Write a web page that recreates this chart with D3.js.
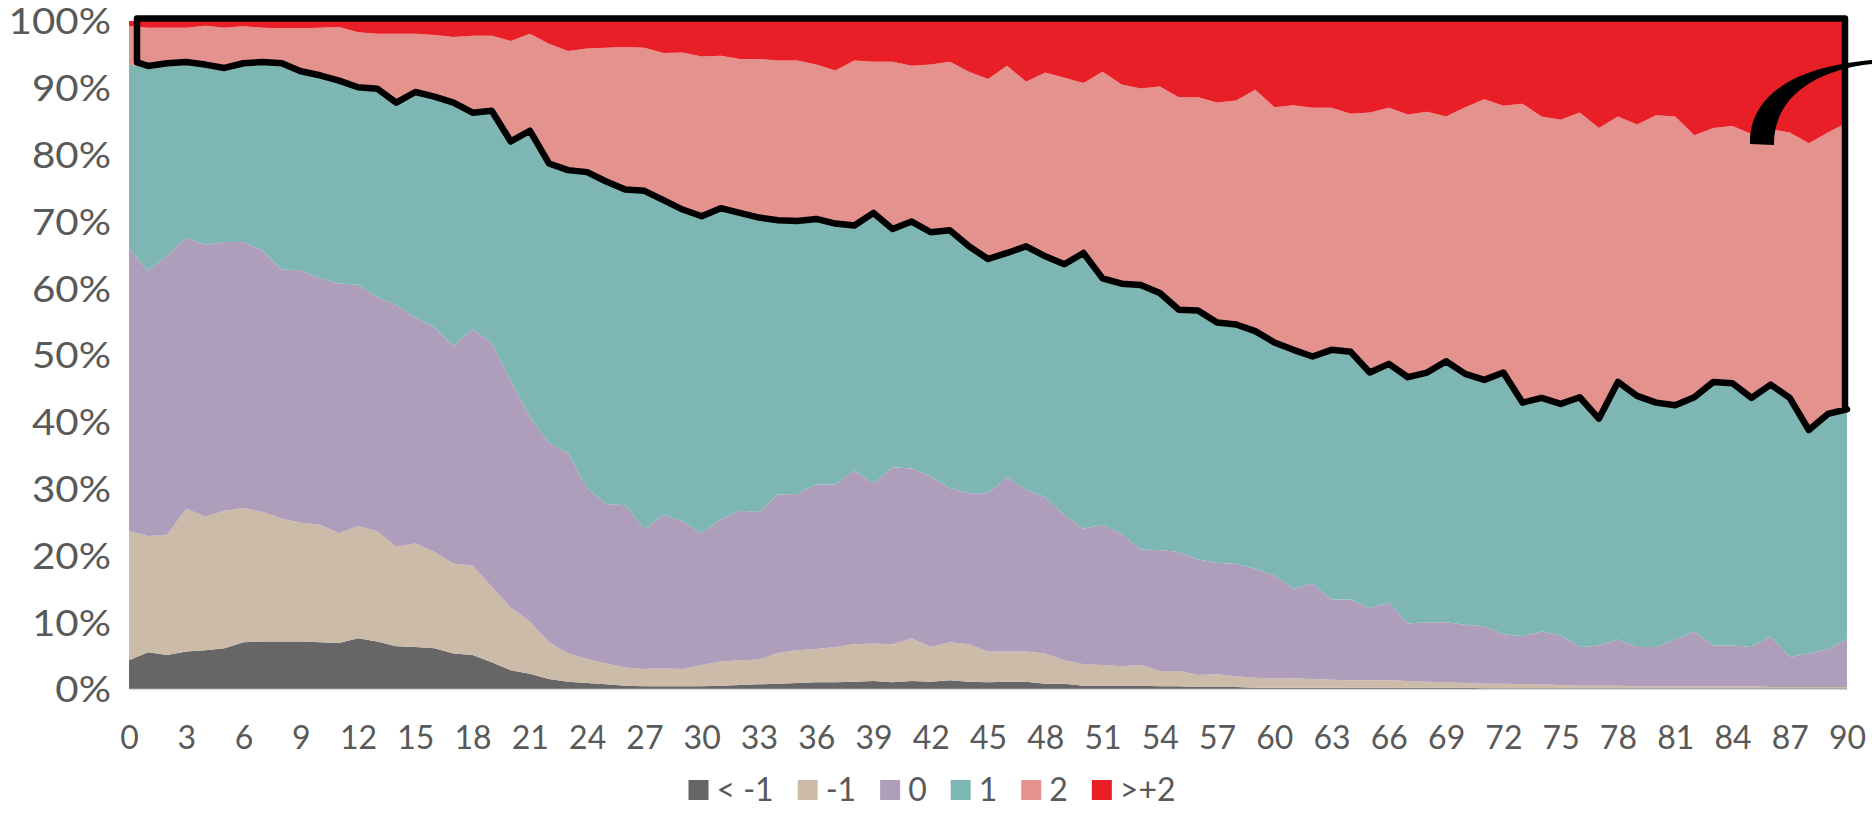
<!DOCTYPE html>
<html>
<head>
<meta charset="utf-8">
<script src="https://cdn.jsdelivr.net/npm/d3@7"></script>
<style>
  body { margin: 0; background: #fff; }
  svg { display: block; }
  text { font-family: Lato, "Open Sans", sans-serif; fill: #595959; }
</style>
</head>
<body>
<svg id="chart" width="1872" height="818"></svg>
<script>
// categories 0..90
const categories = d3.range(0, 91)
const xTicks = d3.range(0, 91, 3)
const yTicks = d3.range(0, 1.01, 0.1)

const seriesNames = ['< -1', '-1', '0', '1', '2', '>+2']
const seriesColors = ['#666666', '#CDBBA9', '#AE9DBB', '#7DB6B2', '#E4928E', '#E81F26']

// share of each class per category (%)
const ltMinus1 = [4.3,5.5,5.1,5.6,5.8,6.1,7.0,7.1,7.1,7.1,
  7.0,6.9,7.6,7.1,6.4,6.3,6.1,5.3,5.1,4.0,
  2.8,2.3,1.5,1.1,0.9,0.7,0.5,0.4,0.4,0.4,
  0.4,0.5,0.6,0.7,0.8,0.9,1.0,1.0,1.1,1.2,
  1.0,1.2,1.1,1.3,1.1,1.0,1.1,1.1,0.8,0.8,
  0.5,0.5,0.5,0.5,0.4,0.4,0.3,0.3,0.3,0.2,
  0.2,0.2,0.2,0.2,0.2,0.2,0.2,0.2,0.2,0.2,
  0.2,0.1,0.1,0.1,0.1,0.1,0.1,0.1,0.1,0.1,
  0.1,0.1,0.1,0.1,0.1,0.1,0.1,0.1,0.1,0.1,0.1]
const minus1 = [19.3,17.4,18.0,21.4,20.0,20.6,20.1,19.4,18.4,17.8,
  17.6,16.4,16.8,16.5,14.9,15.5,14.4,13.5,13.4,11.3,
  9.4,7.8,5.5,4.2,3.6,3.1,2.7,2.6,2.7,2.6,
  3.2,3.6,3.7,3.7,4.6,4.9,5.0,5.3,5.6,5.6,
  5.7,6.4,5.2,5.7,5.6,4.6,4.5,4.5,4.5,3.5,
  3.2,3.1,2.9,3.1,2.3,2.3,1.8,1.9,1.6,1.5,
  1.4,1.4,1.3,1.2,1.1,1.1,1.1,1.0,0.9,0.8,
  0.7,0.7,0.7,0.6,0.6,0.5,0.4,0.4,0.4,0.3,
  0.3,0.3,0.3,0.3,0.3,0.3,0.2,0.2,0.2,0.2,0.2]
const zero = [42.3,39.7,41.8,40.6,40.7,40.2,39.8,39.1,37.3,37.8,
  36.9,37.4,36.1,35.1,36.2,33.8,33.6,32.5,35.4,36.5,
  33.9,30.7,29.8,30.0,25.6,23.9,24.3,20.9,23.0,22.1,
  19.7,21.3,22.4,22.1,23.7,23.4,24.6,24.3,26.0,24.0,
  26.5,25.4,25.5,23.1,22.6,23.7,26.1,24.2,23.4,21.7,
  20.3,21.0,19.8,17.3,18.1,17.8,17.3,16.7,16.8,16.3,
  15.4,13.4,14.3,12.0,12.1,10.8,11.6,8.6,8.9,9.0,
  8.7,8.6,7.4,7.2,7.9,7.4,5.8,6.0,6.9,5.9,
  5.9,7.0,8.2,6.1,6.1,5.9,7.6,4.5,5.0,5.7,7.2]
const one = [27.6,30.3,28.4,25.9,26.6,25.7,26.4,27.9,30.5,29.4,
  30.0,30.0,29.2,30.8,29.9,33.4,34.2,36.1,32.0,34.4,
  35.5,42.4,41.5,42.0,46.9,47.9,46.9,50.3,46.7,46.3,
  47.1,46.2,44.2,43.7,40.7,40.5,39.4,38.7,36.3,40.1,
  35.3,36.6,36.2,38.2,36.6,34.7,33.2,36.1,35.7,37.2,
  40.9,36.5,37.1,39.2,38.1,35.9,36.9,35.6,35.5,35.2,
  34.5,35.4,33.6,37.0,36.7,34.9,35.4,36.5,37.0,38.7,
  37.2,36.5,38.8,34.6,34.6,34.3,37.0,33.6,38.2,37.2,
  36.2,34.7,34.7,39.1,38.9,36.9,37.3,38.4,33.1,34.8,34.0]
const two = [5.7,6.1,5.7,5.5,6.2,6.4,5.9,5.5,5.6,6.8,
  7.5,8.4,8.6,8.6,10.7,9.1,9.6,10.2,11.9,11.6,
  15.4,14.9,18.3,18.2,18.9,20.4,21.7,21.8,22.4,23.9,
  24.3,23.2,23.4,24.1,24.3,24.4,23.5,23.3,25.1,23.0,
  25.4,23.7,25.5,25.6,26.5,27.3,28.4,25.0,27.9,28.3,
  25.8,31.3,30.2,29.8,31.3,32.2,32.3,33.3,33.9,36.5,
  35.6,37.0,37.6,36.6,36.0,39.3,38.7,39.7,39.4,37.0,
  40.3,42.4,40.3,45.1,42.5,42.9,43.0,43.9,40.1,41.0,
  43.4,43.6,39.6,38.4,38.9,39.9,38.6,40.1,43.3,42.5,43.3]
const gtPlus2 = [0.8,1.0,1.0,1.0,0.7,1.0,0.8,1.0,1.1,1.1,
  1.0,0.9,1.7,1.9,1.9,1.9,2.1,2.4,2.2,2.2,
  3.0,1.9,3.4,4.5,4.1,4.0,3.9,4.0,4.8,4.7,
  5.3,5.2,5.7,5.7,5.9,5.9,6.5,7.4,5.9,6.1,
  6.1,6.7,6.5,6.1,7.6,8.7,6.7,9.1,7.7,8.5,
  9.3,7.6,9.5,10.1,9.8,11.4,11.4,12.2,11.9,10.3,
  12.9,12.6,13.0,13.0,13.9,13.7,13.0,14.0,13.6,14.3,
  12.9,11.7,12.7,12.4,14.3,14.8,13.7,16.0,14.3,15.5,
  14.1,14.3,17.1,16.0,15.7,16.9,16.2,16.7,18.3,16.7,15.2]

const seriesValues = [ltMinus1, minus1, zero, one, two, gtPlus2]

const table = categories.map((c, i) => {
  const row = { cat: c }
  seriesNames.forEach((name, k) => { row[name] = seriesValues[k][i] })
  return row
})

const svg = d3.select('#chart')
const plotLeft = 129, plotRight = 1847, plotTop = 21, plotBottom = 689

const x = d3.scaleLinear().domain([0, 90]).range([plotLeft, plotRight])
const y = d3.scaleLinear().domain([0, 1]).range([plotBottom, plotTop])

const stack = d3.stack().keys(seriesNames).offset(d3.stackOffsetExpand)
const layers = stack(table)

const area = d3.area()
  .x(d => x(d.data.cat))
  .y0(d => y(d[0]))
  .y1(d => y(d[1]))

svg.append('g')
  .selectAll('path.layer')
  .data(layers)
  .enter()
  .append('path')
  .classed('layer', true)
  .attr('d', area)
  .attr('fill', (d, i) => seriesColors[i])

// x axis
const xAxis = svg.append('g')
  .attr('transform', `translate(0,${plotBottom})`)
  .call(d3.axisBottom(x).tickValues(xTicks).tickSize(0).tickFormat(d3.format('d')))
xAxis.select('.domain').attr('stroke', '#d9d9d9').attr('stroke-width', 1.5)
xAxis.selectAll('text')
  .attr('y', 60).attr('dy', null)
  .style('font-size', '32px').style('fill', '#595959')
  .style('font-family', 'Lato, sans-serif')

// y axis (labels a little wider than the x ones, as in the original)
const yAxis = svg.append('g')
  .attr('transform', `translate(${plotLeft},0)`)
  .call(d3.axisLeft(y).tickValues(yTicks).tickSize(0).tickFormat(d3.format('.0%')))
yAxis.select('.domain').remove()
yAxis.selectAll('text')
  .attr('x', 0)
  .attr('dy', '0.36em')
  .attr('transform', 'translate(-18,0) scale(1.12,1)')
  .style('font-size', '36px').style('fill', '#595959')
  .style('font-family', 'Lato, sans-serif')

// outline drawn around the "2" and ">+2" block
const teal = layers[3]
const outlinePts = [[137, 18.5], [137, y(teal[0][1]) - 2]]
teal.forEach((d, i) => {
  if (i > 0) outlinePts.push([x(d.data.cat), y(d[1]) - 2.5])
})
outlinePts.push([1845, y(teal[teal.length - 1][1]) - 2.5])
outlinePts.push([1845, 18.5])

svg.append('path')
  .attr('d', d3.line()(outlinePts) + 'Z')
  .attr('fill', 'none')
  .attr('stroke', '#000')
  .attr('stroke-width', 6.5)
  .attr('stroke-linejoin', 'round')

// curved pointer in the top right corner
svg.append('path')
  .attr('d', 'M1750,144 C1749,98 1790,67 1872,60 L1872,64 C1812,70 1773,100 1774,145 Z')
  .attr('fill', '#000')

// legend
const legend = svg.append('g')
let lx = 0
const items = legend.selectAll('g.item')
  .data(seriesNames)
  .enter()
  .append('g')
  .classed('item', true)

items.append('rect')
  .attr('y', 780).attr('width', 20).attr('height', 20)
  .attr('fill', (d, i) => seriesColors[i])
items.append('text')
  .attr('y', 801)
  .style('font-size', '32px')
  .text(d => d)

items.each(function () {
  const g = d3.select(this)
  g.select('rect').attr('x', lx)
  g.select('text').attr('x', lx + 28)
  lx += 28 + g.select('text').node().getComputedTextLength() + 24
})
const legendWidth = lx - 24
legend.attr('transform', `translate(${932 - legendWidth / 2},0)`)
</script>
</body>
</html>
